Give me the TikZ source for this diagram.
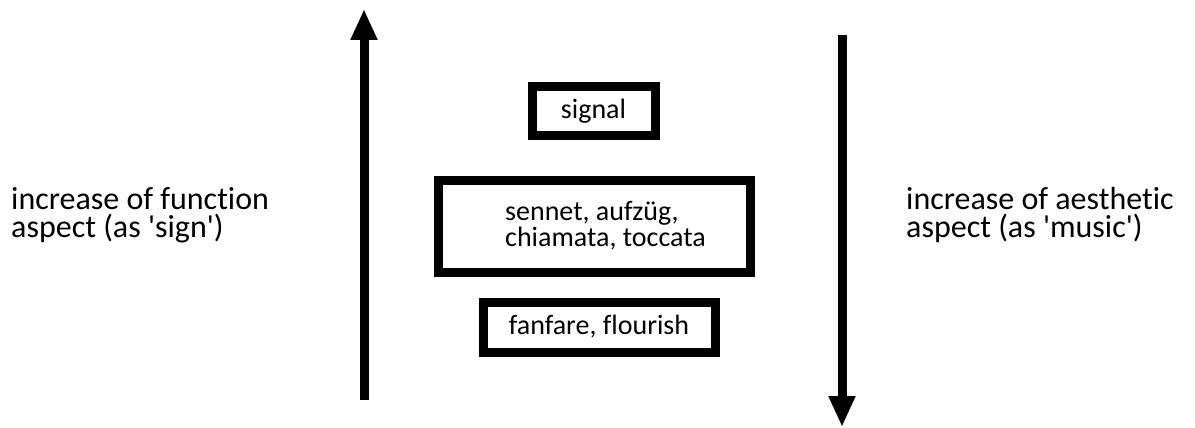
\documentclass[tikz,border=0pt]{standalone}
\usepackage{fontspec}
\setmainfont{Carlito}[Ligatures={NoCommon}]
\usetikzlibrary{arrows.meta}
\begin{document}
\begin{tikzpicture}[x=1pt,y=-1pt,
  frame/.style={draw=black,line width=9pt,inner sep=0pt},
  sidetext/.style={inner sep=0pt,align=left,font=\fontsize{32}{28}\selectfont},
  boxtext/.style={inner sep=0pt,align=left,font=\fontsize{28}{26}\selectfont},
  bigarrow/.style={line width=9pt,-{Triangle[width=25pt,length=31pt]}}]
\useasboundingbox[fill=white] (0,0) rectangle (1195,428);
% arrows
\coordinate (upS) at (364,400);
\coordinate (upE) at (364,9);
\coordinate (dnS) at (842,35);
\coordinate (dnE) at (842,427);
\draw[bigarrow] (upS) -- (upE);
\draw[bigarrow] (dnS) -- (dnE);
% boxes
\draw[frame] (532,87) rectangle (655,135);
\node[boxtext] (signal) at (593.5,111) {signal};
\draw[frame] (438,180) rectangle (750,272);
\node[boxtext,anchor=west] (mid) at (505,226) {sennet, aufzüg,\\chiamata, toccata};
\draw[frame] (483,302) rectangle (715,352);
\node[boxtext] (fan) at (599,327) {fanfare, flourish};
% side texts
\node[sidetext,anchor=west] (left) at (11,215) {increase of function\\aspect (as \textquotesingle sign\textquotesingle)};
\node[sidetext,anchor=west] (right) at (906,215) {increase of aesthetic\\aspect (as \textquotesingle music\textquotesingle)};
\end{tikzpicture}
\end{document}
